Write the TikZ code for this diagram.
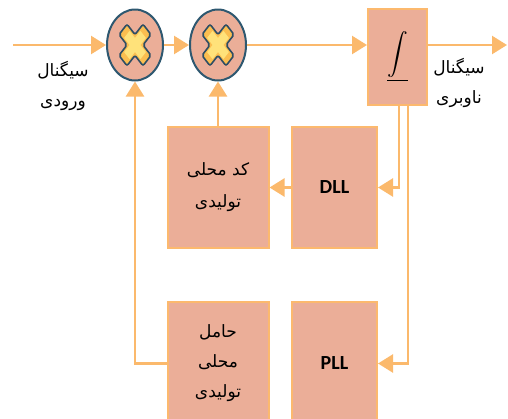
\documentclass[tikz,border=0pt]{standalone}
\usepackage{exscale}
\usepackage{fontspec}
\setmainfont{Carlito}
\newfontfamily\fa[Script=Arabic]{DejaVu Sans}
\TeXXeTstate=1
\usetikzlibrary{arrows.meta,shapes.geometric}
\definecolor{boxfill}{RGB}{235,174,152}
\definecolor{boxline}{RGB}{252,185,110}
\definecolor{wire}{RGB}{251,185,108}
\definecolor{ring}{RGB}{46,88,112}
\definecolor{xfill}{RGB}{251,190,80}
\definecolor{xin}{RGB}{255,226,122}
\definecolor{xline}{RGB}{46,78,100}
\begin{document}
\begin{tikzpicture}[x=1pt,y=-1pt,
 blk/.style={draw=boxline,fill=boxfill,line width=2pt,rectangle,inner sep=0pt,align=center},
 mixer/.style={ellipse,draw=ring,fill=boxfill,line width=2pt,minimum width=56pt,minimum height=71pt,inner sep=0pt},
 wirestyle/.style={draw=wire,line width=2.5pt},
 arr/.style={wirestyle,-{Triangle[length=15pt,width=18pt]}},
 lbl/.style={font=\fa\fontsize{17}{30}\selectfont,align=center,text=black},
 pl/.style={font=\bfseries\fontsize{20}{22}\selectfont,text=black},
 xshape/.style={draw=xline,fill=xfill,line width=1.6pt,rounded corners=2pt}]
\useasboundingbox (0,0) rectangle (508,418);
\clip (0,0) rectangle (508,418);
% mixers
\node[mixer] (c1) at (135,45) {};
\node[mixer] (c2) at (218,45) {};
\foreach \m in {c1,c2}{
  \begin{scope}[shift={(\m.center)},yscale=1.3]
    \path[xshape] (0,8) -- (8,16) -- (16,8) -- (8,0) -- (16,-8) -- (8,-16) -- (0,-8) -- (-8,-16) -- (-16,-8) -- (-8,0) -- (-16,8) -- (-8,16) -- cycle;
    \fill[xin,scale=0.68] (0,8) -- (8,16) -- (16,8) -- (8,0) -- (16,-8) -- (8,-16) -- (0,-8) -- (-8,-16) -- (-16,-8) -- (-8,0) -- (-16,8) -- (-8,16) -- cycle;
  \end{scope}
}
% blocks
\node[blk,minimum width=59pt,minimum height=96pt,font=\fontsize{22}{24}\selectfont] (integ) at (397.5,57) {$\underline{\displaystyle\int}$};
\node[blk,minimum width=85pt,minimum height=121pt] (dll) at (334.5,187.5) {};
\node[pl] at (dll.center) {DLL};
\node[blk,minimum width=101pt,minimum height=121pt] (code) at (218,187.5) {};
\node[lbl,font=\fa\fontsize{17}{32}\selectfont] (codet) at (code.center) {\beginR کد محلی\endR\\\beginR تولیدی\endR};
\node[blk,minimum width=85pt,minimum height=123pt] (pll) at (334.5,363.5) {};
\node[pl] at (pll.center) {PLL};
\node[blk,minimum width=101pt,minimum height=123pt] (carrier) at (218,363.5) {};
\node[lbl] (carriert) at (carrier.center) {\beginR حامل\endR\\\beginR محلی\endR\\\beginR تولیدی\endR};
% labels
\node[lbl] (inlbl) at (63,86) {\beginR سیگنال\endR\\\beginR ورودی\endR};
\node[lbl] (outlbl) at (459,83) {\beginR سیگنال\endR\\\beginR ناوبری\endR};
% wires
\coordinate (in) at (13,45);
\coordinate (out) at (507,45);
\draw[arr] (in) -- (c1.west);
\draw[arr] (c1.east) -- (c2.west);
\draw[arr] (c2.east) -- (c2.east -| integ.west);
\draw[arr] (integ.east |- c2.east) -- (out);
\draw[arr] ([xshift=1.5pt]integ.south) |- (dll.east);
\draw[arr] ([xshift=10.5pt]integ.south) |- (pll.east);
\draw[arr] (dll.west) -- (code.east);
\draw[arr] (code.north) -- (c2.south);
\draw[arr] (carrier.west) -| (c1.south);
\end{tikzpicture}
\end{document}
